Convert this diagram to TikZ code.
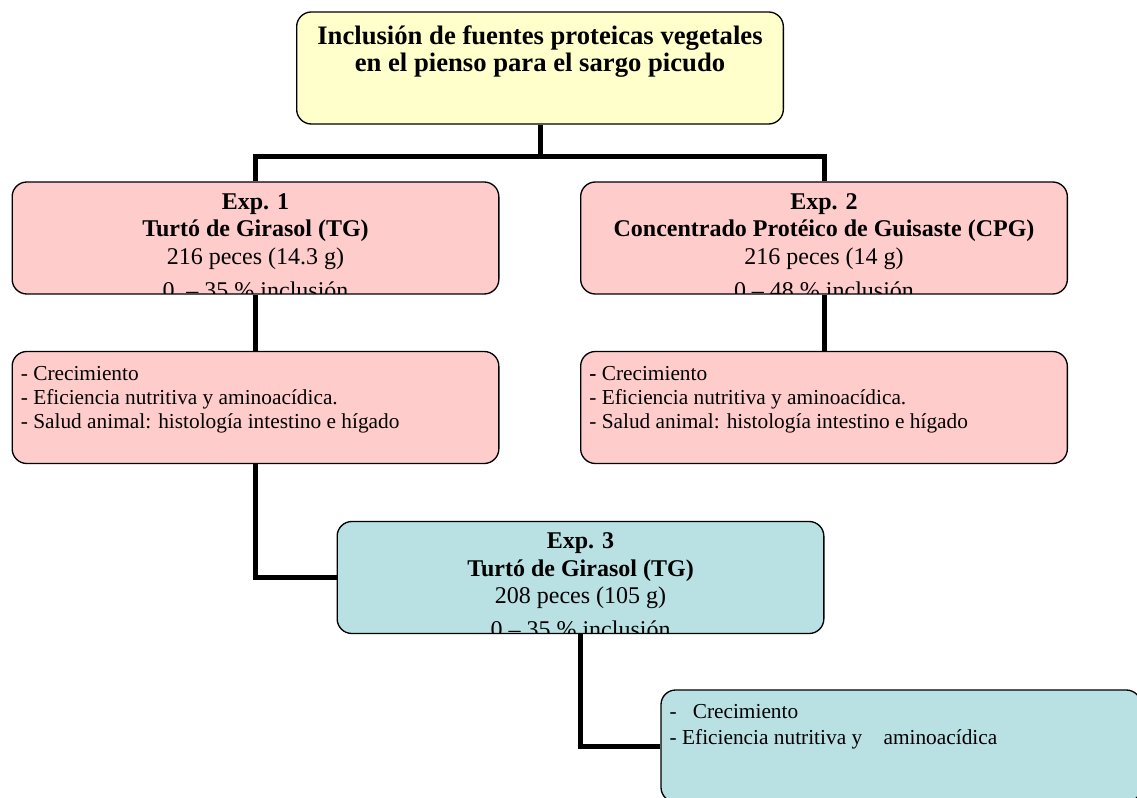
\documentclass[tikz,border=0pt]{standalone}
\usepackage{fontspec}
\setmainfont{Liberation Serif}
\usepackage{tikz}
\usetikzlibrary{positioning,calc}
\definecolor{yellowbox}{RGB}{255,255,204}
\definecolor{pinkbox}{RGB}{255,204,204}
\definecolor{tealbox}{RGB}{185,224,227}

\begin{document}
\begin{tikzpicture}[x=0.75pt,y=-0.75pt,
    box/.style={rectangle,draw,line width=1pt,rounded corners=11pt,minimum width=365pt,minimum height=84pt},
    plain/.style={draw=none,fill=none,inner sep=0pt,minimum width=0pt,minimum height=0pt},
    toptext/.style 2 args={path picture={\node[plain,anchor=north,align=center,font=\bfseries\fontsize{20}{20}\selectfont] (#1) at ([yshift=-10pt]path picture bounding box.north) {#2};}},
    head/.style 2 args={path picture={\node[plain,anchor=north,align=center,font=\fontsize{18}{20.6}\selectfont] (#1) at ([yshift=-8pt]path picture bounding box.north) {#2};}},
    items/.style 2 args={path picture={\node[plain,anchor=north west,align=left,font=\fontsize{16}{18}\selectfont] (#1) at ([xshift=6pt,yshift=-10.4pt]path picture bounding box.north west) {#2};}},
    link/.style={line width=3.75pt}]

    \path[use as bounding box,clip] (0,0) rectangle (1137,798);

    % Main topic (top)
    \node[box,fill=yellowbox,toptext={topictext}{Inclusión de fuentes proteicas vegetales\\en el pienso para el sargo picudo}] (topic) at (540,68) {};

    % Experiments 1 and 2
    \node[box,fill=pinkbox,head={exp1text}{\textbf{Exp. 1}\\\textbf{Turtó de Girasol (TG)}\\216 peces (14.3 g)\\[5pt]0 \ – 35 \% inclusión}] (exp1) at (255.5,238) {};
    \node[box,fill=pinkbox,head={exp2text}{\textbf{Exp. 2}\\\textbf{Concentrado Protéico de Guisaste (CPG)}\\216 peces (14 g)\\[5pt]0 – 48 \% inclusión}] (exp2) at (824,238) {};

    \node[box,fill=pinkbox,items={res1text}{- Crecimiento\\- Eficiencia nutritiva y aminoacídica.\\- Salud animal: histología intestino e hígado}] (res1) at (255.5,407.5) {};
    \node[box,fill=pinkbox,items={res2text}{\textbf{-} Crecimiento\\- Eficiencia nutritiva y aminoacídica.\\- Salud animal: histología intestino e hígado}] (res2) at (824,407.5) {};

    % Experiment 3
    \node[box,fill=tealbox,head={exp3text}{\textbf{Exp. 3}\\\textbf{Turtó de Girasol (TG)}\\208 peces (105 g)\\[5pt]0 – 35 \% inclusión}] (exp3) at (580.5,577.5) {};
    \node[box,fill=tealbox,minimum width=360pt,items={res3text}{- \ \ Crecimiento\\[1.5pt]- Eficiencia nutritiva y \ \ \ aminoacídica}] (res3) at (901,746) {};

    % Connectors
    \coordinate (fork) at (540,157);
    \draw[link] (topic.south) -- (fork);
    \draw[link] (exp1.north) |- (fork) -| (exp2.north);
    \draw[link] (exp1.south) -- (res1.north);
    \draw[link] (exp2.south) -- (res2.north);
    \draw[link] (res1.south) |- (exp3.west);
    \draw[link] (exp3.south) |- (res3.west);
\end{tikzpicture}
\end{document}
